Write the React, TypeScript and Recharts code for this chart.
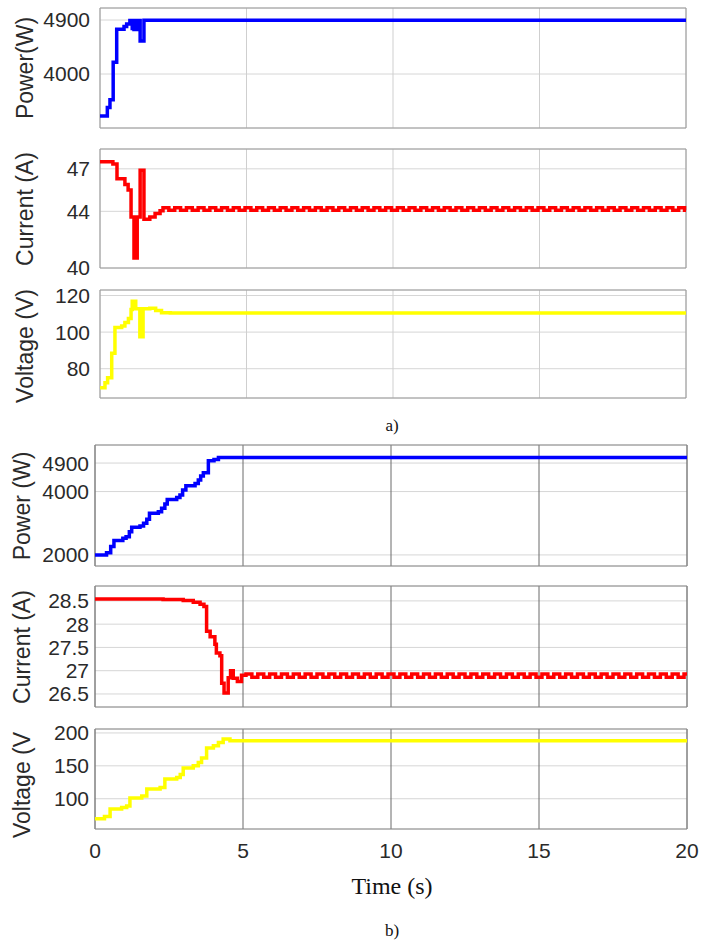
import { LineChart, Line, XAxis, YAxis, CartesianGrid, ReferenceArea } from 'recharts';

const SANS = '"Liberation Sans", Arial, sans-serif';
const SERIF = '"Liberation Serif", "Times New Roman", serif';
const W = 702;

const timeTicks = [0, 5, 10, 15, 20];

// a) power
const powerATime = [0, 0.25, 0.34, 0.45, 0.57, 0.82, 0.91, 1.02, 1.1, 1.13, 1.16, 1.19, 1.22, 1.25, 1.28, 1.31, 1.37, 1.5, 20];
const powerAValue = [3300, 3440, 3570, 4195, 4745, 4790, 4835, 4890, 4760, 4890, 4740, 4890, 4740, 4890, 4760, 4890, 4550, 4895, 4895];

// a) current, transient then the small ripple
const currentATime = [
  0, 0.44, 0.58, 0.85, 0.96, 1.06, 1.16, 1.27, 1.37, 1.5, 1.7, 1.88, 2.05,
  2.15, 2.35, 2.55, 2.75, 2.95, 3.15, 3.35, 3.55, 3.75, 3.95,
  4.15, 4.35, 4.55, 4.75, 4.95, 5.15, 5.35, 5.55, 5.75, 5.95,
  6.15, 6.35, 6.55, 6.75, 6.95, 7.15, 7.35, 7.55, 7.75, 7.95,
  8.15, 8.35, 8.55, 8.75, 8.95, 9.15, 9.35, 9.55, 9.75, 9.95,
  10.15, 10.35, 10.55, 10.75, 10.95, 11.15, 11.35, 11.55, 11.75, 11.95,
  12.15, 12.35, 12.55, 12.75, 12.95, 13.15, 13.35, 13.55, 13.75, 13.95,
  14.15, 14.35, 14.55, 14.75, 14.95, 15.15, 15.35, 15.55, 15.75, 15.95,
  16.15, 16.35, 16.55, 16.75, 16.95, 17.15, 17.35, 17.55, 17.75, 17.95,
  18.15, 18.35, 18.55, 18.75, 18.95, 19.15, 19.35, 19.55, 19.75, 19.95,
  20,
];
const currentAValue = [
  47.5, 47.35, 46.3, 45.9, 45.5, 43.6, 40.7, 43.6, 46.9, 43.45, 43.6, 43.85, 44.05,
  44.25, 44.08, 44.25, 44.08, 44.25, 44.08, 44.25, 44.08, 44.25, 44.08,
  44.25, 44.08, 44.25, 44.08, 44.25, 44.08, 44.25, 44.08, 44.25, 44.08,
  44.25, 44.08, 44.25, 44.08, 44.25, 44.08, 44.25, 44.08, 44.25, 44.08,
  44.25, 44.08, 44.25, 44.08, 44.25, 44.08, 44.25, 44.08, 44.25, 44.08,
  44.25, 44.08, 44.25, 44.08, 44.25, 44.08, 44.25, 44.08, 44.25, 44.08,
  44.25, 44.08, 44.25, 44.08, 44.25, 44.08, 44.25, 44.08, 44.25, 44.08,
  44.25, 44.08, 44.25, 44.08, 44.25, 44.08, 44.25, 44.08, 44.25, 44.08,
  44.25, 44.08, 44.25, 44.08, 44.25, 44.08, 44.25, 44.08, 44.25, 44.08,
  44.25, 44.08, 44.25, 44.08, 44.25, 44.08, 44.25, 44.08, 44.25, 44.08,
  44.08,
];

// a) voltage
const voltageATime = [0, 0.17, 0.26, 0.4, 0.51, 0.74, 0.85, 0.97, 1.06, 1.1, 1.22, 1.36, 1.47, 1.7, 1.9, 2.1, 2.4, 20];
const voltageAValue = [69.6, 72.3, 75, 88.5, 102.5, 103.4, 105.2, 107.4, 112.4, 116.8, 112.8, 97.5, 112.8, 113, 111.8, 110.6, 110.4, 110.4];

// b) power
const powerBTime = [0, 0.39, 0.53, 0.64, 0.94, 1.05, 1.16, 1.24, 1.52, 1.64, 1.75, 1.84, 2.14, 2.25, 2.36, 2.44, 2.76, 2.87, 2.96, 3.07, 3.38, 3.49, 3.57, 3.66, 3.83, 4.02, 4.17, 20];
const powerBValue = [2000, 2072, 2262, 2452, 2525, 2577, 2735, 2872, 2916, 3000, 3124, 3313, 3366, 3470, 3606, 3753, 3816, 3890, 4047, 4183, 4257, 4362, 4488, 4593, 4971, 5013, 5077, 5077];

// b) current
const currentBTime = [
  0, 2.3, 2.98, 3.32, 3.55, 3.68, 3.77, 3.89, 4.05, 4.1, 4.22, 4.28, 4.36, 4.5, 4.58, 4.67, 4.81, 4.95,
  5.1, 5.3, 5.5, 5.7, 5.9, 6.1, 6.3, 6.5, 6.7, 6.9,
  7.1, 7.3, 7.5, 7.7, 7.9, 8.1, 8.3, 8.5, 8.7, 8.9,
  9.1, 9.3, 9.5, 9.7, 9.9, 10.1, 10.3, 10.5, 10.7, 10.9,
  11.1, 11.3, 11.5, 11.7, 11.9, 12.1, 12.3, 12.5, 12.7, 12.9,
  13.1, 13.3, 13.5, 13.7, 13.9, 14.1, 14.3, 14.5, 14.7, 14.9,
  15.1, 15.3, 15.5, 15.7, 15.9, 16.1, 16.3, 16.5, 16.7, 16.9,
  17.1, 17.3, 17.5, 17.7, 17.9, 18.1, 18.3, 18.5, 18.7, 18.9,
  19.1, 19.3, 19.5, 19.7, 19.9,
  20,
];
const currentBValue = [
  28.54, 28.53, 28.51, 28.47, 28.43, 28.38, 27.85, 27.73, 27.57, 27.38, 27.32, 26.73, 26.52, 26.85, 27.0, 26.84, 26.77, 26.9,
  26.93, 26.86, 26.93, 26.86, 26.93, 26.86, 26.93, 26.86, 26.93, 26.86,
  26.93, 26.86, 26.93, 26.86, 26.93, 26.86, 26.93, 26.86, 26.93, 26.86,
  26.93, 26.86, 26.93, 26.86, 26.93, 26.86, 26.93, 26.86, 26.93, 26.86,
  26.93, 26.86, 26.93, 26.86, 26.93, 26.86, 26.93, 26.86, 26.93, 26.86,
  26.93, 26.86, 26.93, 26.86, 26.93, 26.86, 26.93, 26.86, 26.93, 26.86,
  26.93, 26.86, 26.93, 26.86, 26.93, 26.86, 26.93, 26.86, 26.93, 26.86,
  26.93, 26.86, 26.93, 26.86, 26.93, 26.86, 26.93, 26.86, 26.93, 26.86,
  26.93, 26.86, 26.93, 26.86, 26.93,
  26.93,
];

// b) voltage
const voltageBTime = [0, 0.32, 0.51, 0.9, 1.07, 1.18, 1.58, 1.75, 2.2, 2.36, 2.76, 2.88, 2.98, 3.32, 3.49, 3.6, 3.77, 4.0, 4.17, 4.33, 4.56, 20];
const voltageBValue = [69.6, 73.1, 84.3, 86.5, 89, 101, 104, 114.7, 117, 130, 132.4, 137, 146.6, 150, 155, 161.8, 177, 180.5, 185.5, 190.7, 188.2, 188.2];

const zip = (t: number[], v: number[]) => t.map((x, i) => ({ t: x, v: v[i] }));

const NoTick = () => <g />;

type PanelProps = {
  data: { t: number; v: number }[];
  color: string;
  domain: [number, number];
  ticks: number[];
  top: number;
  height: number;
  left: number;
  right: number;
  label: string;
  labelX: number;
  labelDy?: number;
  tickGap: number;
  vGrid: string;
  frame: string;
  showTime?: boolean;
};

const Panel = ({ data, color, domain, ticks, top, height, left, right, label, labelX, labelDy = 0, tickGap, vGrid, frame, showTime }: PanelProps) => {
  const padTop = 14;
  const padBottom = showTime ? 0 : 14;
  const xH = showTime ? 44 : 0;
  return (
    <div style={{ position: 'absolute', left: 0, top: top - padTop }}>
      <LineChart
        width={W}
        height={height + padTop + padBottom + xH}
        data={data}
        margin={{ top: padTop, right: W - right, bottom: padBottom, left: 0 }}
      >
        <CartesianGrid horizontal vertical={false} stroke="#d6d6d6" />
        <CartesianGrid horizontal={false} vertical stroke={vGrid} />
        <ReferenceArea x1={0} x2={20} y1={domain[0]} y2={domain[1]} fill="none" stroke={frame} strokeWidth={1} />
        <XAxis
          type="number"
          dataKey="t"
          domain={[0, 20]}
          ticks={timeTicks}
          interval={0}
          height={xH}
          tick={showTime ? { fill: '#2a2a2a', fontSize: 21, fontFamily: SANS } : NoTick}
          tickLine={false}
          axisLine={false}
          tickSize={0}
          tickMargin={14}
        />
        <YAxis
          type="number"
          domain={domain}
          ticks={ticks}
          interval={0}
          width={left}
          tickLine={false}
          axisLine={false}
          tickSize={0}
          tickMargin={tickGap}
          tick={{ fill: '#2a2a2a', fontSize: 21, fontFamily: SANS }}
        />
        <Line type="stepAfter" dataKey="v" stroke={color} strokeWidth={3.5} dot={false} isAnimationActive={false} />
      </LineChart>
      <div
        style={{
          position: 'absolute',
          left: labelX,
          top: padTop + height / 2 + labelDy,
          transform: 'translate(-50%, -50%) rotate(-90deg)',
          whiteSpace: 'nowrap',
          fontFamily: SANS,
          fontSize: 23,
          color: '#2a2a2a',
          lineHeight: 1,
        }}
      >
        {label}
      </div>
    </div>
  );
};

const caption = (text: string, cx: number, cy: number, size: number) => (
  <div
    style={{
      position: 'absolute',
      left: cx,
      top: cy,
      transform: 'translate(-50%, -50%)',
      fontFamily: SERIF,
      fontSize: size,
      color: '#111',
      lineHeight: 1,
      whiteSpace: 'nowrap',
    }}
  >
    {text}
  </div>
);

export default function App() {
  const gridA = '#cfcfcf';
  const gridB = '#6a6a6a';
  return (
    <div style={{ position: 'absolute', left: 0, top: 0, width: W, height: 944, background: '#fff', overflow: 'hidden' }}>
      <Panel data={zip(powerATime, powerAValue)} color="#0000ff" domain={[3100, 5100]} ticks={[4000, 4900]}
        top={8} height={120} left={100} right={686} label="Power(W)" labelX={25} tickGap={10} vGrid={gridA} frame="#9a9a9a" />
      <Panel data={zip(currentATime, currentAValue)} color="#ff0000" domain={[40, 48.4]} ticks={[40, 44, 47]}
        top={149} height={119} left={100} right={686} label="Current (A)" labelX={25} tickGap={10} vGrid={gridA} frame="#9a9a9a" />
      <Panel data={zip(voltageATime, voltageAValue)} color="#ffff00" domain={[64, 123]} ticks={[80, 100, 120]}
        top={290} height={108} left={100} right={686} label="Voltage (V)" labelX={25} labelDy={2} tickGap={10} vGrid={gridA} frame="#9a9a9a" />
      {caption('a)', 392, 425, 17)}
      <Panel data={zip(powerBTime, powerBValue)} color="#0000ff" domain={[1650, 5470]} ticks={[2000, 4000, 4900]}
        top={445} height={121} left={95} right={687} label="Power (W)" labelX={22} tickGap={6} vGrid={gridB} frame="#8a8a8a" />
      <Panel data={zip(currentBTime, currentBValue)} color="#ff0000" domain={[26.22, 28.82]} ticks={[26.5, 27, 27.5, 28, 28.5]}
        top={586} height={121} left={95} right={687} label="Current (A)" labelX={22} tickGap={6} vGrid={gridB} frame="#8a8a8a" />
      <Panel data={zip(voltageBTime, voltageBValue)} color="#ffff00" domain={[54, 206]} ticks={[100, 150, 200]}
        top={729} height={100} left={95} right={687} label="Voltage (V" labelX={22} labelDy={6} tickGap={6} vGrid={gridB} frame="#8a8a8a" showTime />
      {caption('Time (s)', 392, 886, 24)}
      {caption('b)', 392, 930, 17)}
    </div>
  );
}
